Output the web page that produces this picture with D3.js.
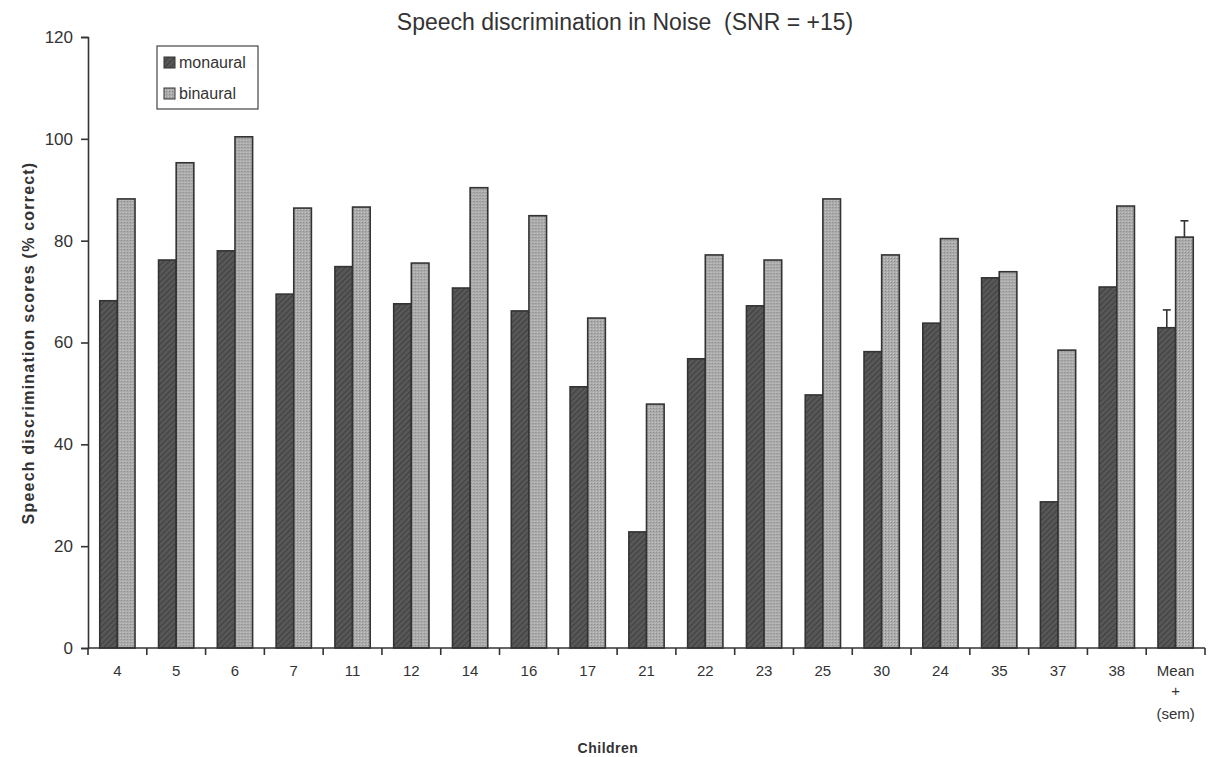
<!DOCTYPE html>
<html>
<head>
<meta charset="utf-8">
<script src="https://cdn.jsdelivr.net/npm/d3@7"></script>
<style>
  body { margin: 0; background: #fff; }
  svg { font-family: "Liberation Sans", Arial, sans-serif; }
  .tick text { fill: #333; }
</style>
</head>
<body>
<svg id="chart"></svg>
<script>
// children ids along the x axis, last group is the mean
var children = ["4", "5", "6", "7", "11", "12", "14", "16", "17", "21", "22", "23", "25", "30", "24", "35", "37", "38", "Mean"];
var monaural = [68.2, 76.2, 78, 69.5, 74.9, 67.6, 70.7, 66.2, 51.3, 22.8, 56.8, 67.2, 49.7, 58.2, 63.8, 72.7, 28.7, 70.9, 62.9];
var binaural = [88.2, 95.3, 100.4, 86.4, 86.6, 75.6, 90.4, 84.9, 64.8, 47.9, 77.2, 76.2, 88.2, 77.2, 80.4, 73.9, 58.5, 86.8, 80.7];
// standard error of the mean, only for the last group
var semMon = 3.5, semBin = 3.2;
var series = ["monaural", "binaural"];
var yTicks = [0, 20, 40, 60, 80, 100, 120];

var width = 1210, height = 757;
var margin = {left: 88, right: 5, top: 37, bottom: 109};

var svg = d3.select("#chart")
    .attr("width", width)
    .attr("height", height);

var defs = svg.append("defs");

// dark hatched fill for monaural
var pm = defs.append("pattern")
    .attr("id", "monFill")
    .attr("width", 4).attr("height", 4)
    .attr("patternUnits", "userSpaceOnUse")
    .attr("patternTransform", "rotate(45)");
pm.append("rect").attr("width", 4).attr("height", 4).attr("fill", "#575757");
pm.append("rect").attr("width", 1).attr("height", 4).attr("fill", "#404040");

// light dotted fill for binaural
var pb = defs.append("pattern")
    .attr("id", "binFill")
    .attr("width", 3).attr("height", 3)
    .attr("patternUnits", "userSpaceOnUse");
pb.append("rect").attr("width", 3).attr("height", 3).attr("fill", "#ababab");
pb.append("rect").attr("width", 1).attr("height", 1).attr("fill", "#888");
pb.append("rect").attr("x", 2).attr("y", 2).attr("width", 1).attr("height", 1).attr("fill", "#c8c8c8");

var fills = {monaural: "url(#monFill)", binaural: "url(#binFill)"};

var x0 = d3.scaleBand()
    .domain(children)
    .range([margin.left, width - margin.right])
    .paddingInner(0.4)
    .paddingOuter(0.2);

var x1 = d3.scaleBand()
    .domain(series)
    .range([0, x0.bandwidth()]);

var y = d3.scaleLinear()
    .domain([0, 120])
    .range([height - margin.bottom, margin.top]);

var rows = children.map(function(c, i) {
  return {child: c, monaural: monaural[i], binaural: binaural[i]};
});

// Bars
var groups = svg.append("g").selectAll("g")
    .data(rows)
    .enter().append("g")
    .attr("transform", function(d) { return "translate(" + x0(d.child) + ",0)"; });

groups.selectAll("rect")
    .data(function(d) { return series.map(function(s) { return {key: s, value: d[s], child: d.child}; }); })
    .enter().append("rect")
    .attr("x", function(d) { return x1(d.key); })
    .attr("y", function(d) { return y(d.value); })
    .attr("width", x1.bandwidth())
    .attr("height", function(d) { return y(0) - y(d.value); })
    .attr("fill", function(d) { return fills[d.key]; })
    .attr("stroke", "#333")
    .attr("stroke-width", 1.6);

// Error bars on the mean group
var meanRow = rows[rows.length - 1];
var errs = [{key: "monaural", value: meanRow.monaural, sem: semMon},
            {key: "binaural", value: meanRow.binaural, sem: semBin}];
var eg = svg.append("g").attr("stroke", "#333").attr("stroke-width", 1.6);
errs.forEach(function(e) {
  var cx = x0("Mean") + x1(e.key) + x1.bandwidth() / 2;
  eg.append("line").attr("x1", cx).attr("x2", cx)
      .attr("y1", y(e.value)).attr("y2", y(e.value + e.sem));
  eg.append("line").attr("x1", cx - 4).attr("x2", cx + 4)
      .attr("y1", y(e.value + e.sem)).attr("y2", y(e.value + e.sem));
});

// Y axis
var yAxis = svg.append("g")
    .attr("transform", "translate(" + margin.left + ",0)")
    .call(d3.axisLeft(y).tickValues(yTicks).tickSize(7).tickPadding(8));
yAxis.selectAll("text").style("font-size", "17px");
yAxis.selectAll("line, path").attr("stroke", "#333").attr("stroke-width", 1.6);

// X axis: ticks sit on the group boundaries
var bounds = children.map(function(c, i) { return margin.left + i * x0.step(); });
bounds.push(width - margin.right);
var xg = svg.append("g");
xg.append("line")
    .attr("x1", margin.left).attr("x2", width - margin.right)
    .attr("y1", y(0)).attr("y2", y(0))
    .attr("stroke", "#333").attr("stroke-width", 1.6);
xg.selectAll("line.tk")
    .data(bounds)
    .enter().append("line")
    .attr("class", "tk")
    .attr("x1", function(d) { return d; }).attr("x2", function(d) { return d; })
    .attr("y1", y(0)).attr("y2", y(0) + 7)
    .attr("stroke", "#333").attr("stroke-width", 1.6);

xg.selectAll("text.lab")
    .data(children)
    .enter().append("text")
    .attr("class", "lab")
    .attr("x", function(d) { return x0(d) + x0.bandwidth() / 2; })
    .attr("y", y(0) + 28)
    .attr("text-anchor", "middle")
    .attr("fill", "#333")
    .style("font-size", "15px")
    .text(function(d) { return d; });

var meanX = x0("Mean") + x0.bandwidth() / 2;
xg.append("text").attr("x", meanX).attr("y", y(0) + 48)
    .attr("text-anchor", "middle").attr("fill", "#333").style("font-size", "15px").text("+");
xg.append("text").attr("x", meanX).attr("y", y(0) + 71)
    .attr("text-anchor", "middle").attr("fill", "#333").style("font-size", "15px").text("(sem)");

// Axis titles
svg.append("text")
    .attr("x", 608).attr("y", 753)
    .attr("text-anchor", "middle")
    .attr("fill", "#333")
    .style("font-size", "14px").style("font-weight", "bold")
    .style("letter-spacing", "0.5px")
    .text("Children");

svg.append("text")
    .attr("transform", "translate(34,343) rotate(-90)")
    .attr("text-anchor", "middle")
    .attr("fill", "#333")
    .style("font-size", "16px").style("font-weight", "bold")
    .style("letter-spacing", "1.2px")
    .text("Speech discrimination scores (% correct)");

// Title
svg.append("text")
    .attr("x", 625).attr("y", 30)
    .attr("text-anchor", "middle")
    .attr("fill", "#333")
    .style("font-size", "23px")
    .attr("xml:space", "preserve")
    .text("Speech discrimination in Noise  (SNR = +15)");

// Legend
var lg = svg.append("g").attr("transform", "translate(157,46)");
lg.append("rect")
    .attr("width", 101).attr("height", 63)
    .attr("fill", "#fff").attr("stroke", "#444").attr("stroke-width", 1.2);
series.forEach(function(s, i) {
  lg.append("rect")
      .attr("x", 7).attr("y", 11 + i * 31)
      .attr("width", 11).attr("height", 11)
      .attr("fill", fills[s]).attr("stroke", "#333");
  lg.append("text")
      .attr("x", 22).attr("y", 22 + i * 31)
      .attr("fill", "#333")
      .style("font-size", "16px")
      .text(s);
});
</script>
</body>
</html>
